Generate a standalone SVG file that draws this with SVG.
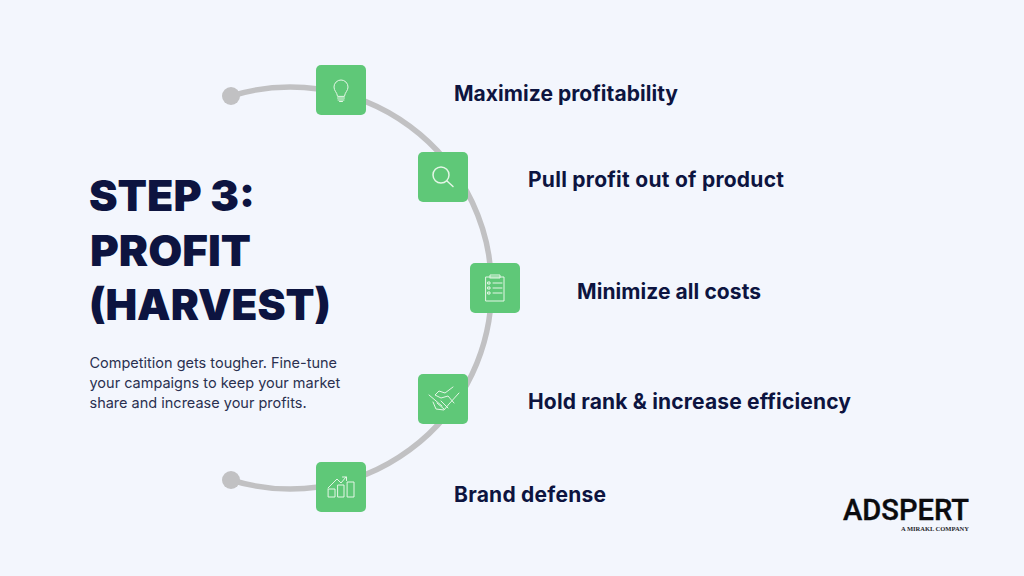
<svg xmlns="http://www.w3.org/2000/svg" width="1024" height="576" viewBox="0 0 1024 576">
<style>
.title{font:900 42px Inter,"Liberation Sans",sans-serif;fill:#0d1440}
.body{font:400 14.500px Inter,"Liberation Sans",sans-serif;fill:#2a3050}
.label{font:700 21px Inter,"Liberation Sans",sans-serif;fill:#0d1440}
.box{fill:#5fc878}
.icon{fill:none;stroke:#e4f6e6;stroke-width:1;stroke-linecap:round;stroke-linejoin:round}
.lens{stroke-width:1.500}
.arc{fill:none;stroke:#c1c1c3;stroke-width:5.500}
.dot{fill:#c1c1c3}
</style>
<rect width="1024" height="576" fill="#f3f6fd"/>
<g id="connectors">
<path class="arc" d="M231 96A201 201 0 1 1 231 480"/>
<circle class="dot" cx="231" cy="96" r="9"/>
<circle class="dot" cx="231" cy="480" r="9"/>
</g>
<g id="heading">
<text class="title" x="89" y="211" textLength="166" lengthAdjust="spacingAndGlyphs">STEP 3:</text>
<text class="title" x="90" y="265.500" textLength="161" lengthAdjust="spacingAndGlyphs">PROFIT</text>
<text class="title" x="89" y="320" textLength="242" lengthAdjust="spacingAndGlyphs">(HARVEST)</text>
<text class="body" x="89.500" y="368">Competition gets tougher. Fine-tune</text>
<text class="body" x="89.500" y="388">your campaigns to keep your market</text>
<text class="body" x="89.500" y="408">share and increase your profits.</text>
</g>
<g id="node-profitability">
<rect class="box" x="316" y="65" width="50" height="50" rx="5"/>
<path class="icon" d="M337.500 96C337 92 334 91 334 87A7 7 0 0 1 348 87C348 91 345 92 344.500 96ZM337.500 98H344.500M338 100H344M339.500 101.500H342.500"/>
<text class="label" x="454" y="101" textLength="224">Maximize profitability</text>
</g>
<g id="node-pull-profit">
<rect class="box" x="418" y="152" width="50" height="50" rx="5"/>
<circle class="icon lens" cx="441" cy="175" r="8"/>
<path class="icon lens" d="M447 181L453 186.500"/>
<text class="label" x="528" y="187" textLength="256">Pull profit out of product</text>
</g>
<g id="node-costs">
<rect class="box" x="470" y="263" width="50" height="50" rx="5"/>
<path class="icon" d="M486 277H504V301H486ZM490 277V275H500V278H490ZM488 282H490V284H488ZM488 287H490V289H488ZM488 292H490V294H488ZM493 283H502M493 288H502M493 293H502"/>
<text class="label" x="577" y="299" textLength="184">Minimize all costs</text>
</g>
<g id="node-rank">
<rect class="box" x="418" y="374" width="50" height="50" rx="5"/>
<path class="icon" d="M429 395L442 406M459 393L449 404L444 410L436 409L433 402M453 387L445 393L439 391L435 395L441 398L448 396L454 403M437 403L444 409M441 401L448 408"/>
<text class="label" x="528" y="409" textLength="323">Hold rank &amp; increase efficiency</text>
</g>
<g id="node-brand">
<rect class="box" x="316" y="462" width="50" height="50" rx="5"/>
<path class="icon" d="M328.500 489H335V497H328.500ZM338 485H344V497H338ZM347.500 482H354V497H347.500ZM328 488L337 479L341 483L346 477M342.500 477H346.500V480.500"/>
<text class="label" x="454" y="501.500" textLength="152">Brand defense</text>
</g>
<g id="logo">
<text x="843" y="520" textLength="126" lengthAdjust="spacingAndGlyphs" style="font:500 30px Roboto,'Liberation Sans',sans-serif;stroke:#0b0b0e;stroke-width:.4;fill:#0b0b0e">ADSPERT</text>
<text x="901" y="531" textLength="68" lengthAdjust="spacingAndGlyphs" style="font:700 6.500px 'Liberation Serif',serif;fill:#26262c">A MIRAKL COMPANY</text>
</g>
</svg>
